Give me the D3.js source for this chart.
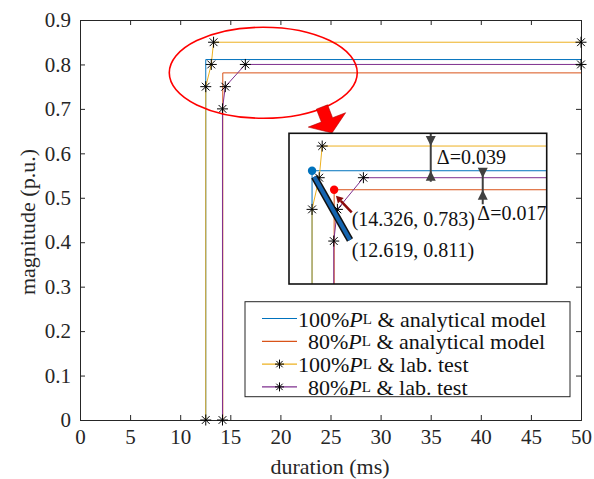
<!DOCTYPE html>
<html><head><meta charset="utf-8">
<script src="https://cdn.jsdelivr.net/npm/d3@7"></script>
<style>
html,body{margin:0;padding:0;background:#fff;}
svg{display:block;}
svg text{font-family:"Liberation Serif","Times New Roman",serif;}
</style></head>
<body><svg id="c" width="594" height="479"></svg>
<script>
// ---- data ----
const xTicks = [0,5,10,15,20,25,30,35,40,45,50];
const yTicks = [0,0.1,0.2,0.3,0.4,0.5,0.6,0.7,0.8,0.9];
const yTickLabels = ["0","0.1","0.2","0.3","0.4","0.5","0.6","0.7","0.8","0.9"];
const model100 = [[12.55,0],[12.55,0.811],[50,0.811]];
const model80  = [[14.25,0],[14.25,0.781],[50,0.781]];
const lab100   = [[12.55,0],[12.55,0.75],[13.1,0.80],[13.33,0.85],[50,0.85]];
const lab80    = [[14.22,0],[14.22,0.70],[14.5,0.75],[16.5,0.80],[50,0.80]];
const seriesNames = ["100%","80%","100%","80%"];
const seriesSuffix = [" & analytical model"," & analytical model"," & lab. test"," & lab. test"];
const colors = ["#0072BD","#D95319","#EDB120","#7E2F8E"];
const delta1 = "\u0394=0.039", delta2 = "\u0394=0.017";
const pt100 = "(12.619, 0.811)", pt80 = "(14.326, 0.783)";

const FONT = '"Liberation Serif","Times New Roman",serif';
const svg = d3.select("#c");
const x = d3.scaleLinear().domain([0,50]).range([80,581]);
const y = d3.scaleLinear().domain([0,0.9]).range([420,20]);
const axisCol = "#262626";

// ---- main axes ----
svg.append("rect").attr("x",80).attr("y",20).attr("width",501).attr("height",400).attr("fill","#fff");
const gx = svg.append("g").attr("transform","translate(0,420)")
  .call(d3.axisBottom(x).tickValues(xTicks).tickSize(-5).tickPadding(9).tickFormat(d3.format("d")));
const gxt = svg.append("g").attr("transform","translate(0,20)")
  .call(d3.axisTop(x).tickValues(xTicks).tickSize(-5).tickFormat(""));
const gy = svg.append("g").attr("transform","translate(80,0)")
  .call(d3.axisLeft(y).tickValues(yTicks).tickSize(-5).tickPadding(9).tickFormat((d,i)=>yTickLabels[i]));
const gyr = svg.append("g").attr("transform","translate(581,0)")
  .call(d3.axisRight(y).tickValues(yTicks).tickSize(-5).tickFormat(""));
[gx,gxt,gy,gyr].forEach(g=>{
  g.attr("font-family",FONT);
  g.select(".domain").attr("stroke",axisCol).attr("stroke-width",1);
  g.selectAll(".tick line").attr("stroke",axisCol);
  g.selectAll(".tick text").attr("fill",axisCol).style("font-family",FONT).style("font-size","21px");
});
gx.selectAll(".tick text").attr("dy","0.71em");

svg.append("text").attr("x",330).attr("y",474).attr("text-anchor","middle")
  .style("font-family",FONT).style("font-size","22px").attr("fill",axisCol).text("duration (ms)");
svg.append("text").attr("transform","translate(35,222) rotate(-90)").attr("text-anchor","middle")
  .style("font-family",FONT).style("font-size","22px").attr("fill",axisCol).text("magnitude (p.u.)");

function star(g, px, py, s){
  const r = s/2, d = r*0.7071;
  const p = `M${px-r},${py}L${px+r},${py}M${px},${py-r}L${px},${py+r}M${px-d},${py-d}L${px+d},${py+d}M${px-d},${py+d}L${px+d},${py-d}`;
  g.append("path").attr("d",p).attr("stroke","#000").attr("stroke-width",1).attr("fill","none");
}

function drawSeries(g, xs, ys, markerSize){
  const line = d3.line().x(d=>xs(d[0])).y(d=>ys(d[1]));
  [model100,model80,lab100,lab80].forEach((s,i)=>{
    g.append("path").attr("d",line(s)).attr("fill","none").attr("stroke",colors[i]).attr("stroke-width",1);
  });
  [lab100,lab80].forEach(s=>s.forEach(d=>star(g, xs(d[0]), ys(d[1]), markerSize)));
}
drawSeries(svg.append("g"), x, y, 11);

// ---- ellipse + big arrow ----
const ell = {cx:18.29, cy:0.7813, rx:9.38, ry:0.1024};
svg.append("ellipse").attr("cx",x(ell.cx)).attr("cy",y(ell.cy))
  .attr("rx",x(ell.rx)-x(0)).attr("ry",y(0)-y(ell.ry))
  .attr("fill","none").attr("stroke","#FF0000").attr("stroke-width",1.6);

const arrTail = [24.15,0.7043], arrTip = [25.15,0.6458];
(function(){
  const tx=x(arrTail[0]), ty=y(arrTail[1]), hx=x(arrTip[0]), hy=y(arrTip[1]);
  const L=Math.hypot(hx-tx,hy-ty), ux=(hx-tx)/L, uy=(hy-ty)/L, nx=-uy, ny=ux;
  const hl=14, sw=6, hw=20;
  const bx=hx-ux*hl, by=hy-uy*hl;
  const pts=[[tx+nx*sw,ty+ny*sw],[bx+nx*sw,by+ny*sw],[bx+nx*hw,by+ny*hw],[hx,hy],[bx-nx*hw,by-ny*hw],[bx-nx*sw,by-ny*sw],[tx-nx*sw,ty-ny*sw]];
  svg.append("polygon").attr("points",pts.map(p=>p.join(",")).join(" "))
    .attr("fill","#FF0000").attr("stroke","#B00000").attr("stroke-width",0.6);
})();

// ---- inset ----
const ix = d3.scaleLinear().domain([10.777,30.6]).range([289,546.7]);
const iy = d3.scaleLinear().domain([0.6322,0.8701]).range([284,133.3]);
const ins = svg.append("g");
ins.append("rect").attr("x",289).attr("y",133.3).attr("width",257.7).attr("height",150.7).attr("fill","#fff");
svg.append("clipPath").attr("id","ic").append("rect").attr("x",289).attr("y",133.3).attr("width",257.7).attr("height",150.7);
const ig = ins.append("g").attr("clip-path","url(#ic)");
drawSeries(ig, ix, iy, 11);

// dimension arrows
const dimCol = "#404040";
function dim(g, xv, yTop, yA, yB, yBot){
  const X = ix(xv);
  g.append("line").attr("x1",X).attr("x2",X).attr("y1",iy(yTop)).attr("y2",iy(yBot)).attr("stroke",dimCol).attr("stroke-width",2);
  const a = iy(yA), b = iy(yB);
  g.append("path").attr("d",`M${X},${a}L${X-5},${a-10}L${X+5},${a-10}Z`).attr("fill",dimCol);
  g.append("path").attr("d",`M${X},${b}L${X-5},${b+10}L${X+5},${b+10}Z`).attr("fill",dimCol);
}
dim(ig, 21.68, 0.8701, 0.85, 0.811, 0.7937);
dim(ig, 25.68, 0.8106, 0.80, 0.781, 0.758);

// pointers
const bluePtr = [[12.72,0.8016],[15.47,0.7017]];
ig.append("line").attr("x1",ix(bluePtr[0][0])).attr("y1",iy(bluePtr[0][1])).attr("x2",ix(bluePtr[1][0])).attr("y2",iy(bluePtr[1][1]))
  .attr("stroke","#111").attr("stroke-width",7);
ig.append("line").attr("x1",ix(bluePtr[0][0])).attr("y1",iy(bluePtr[0][1])).attr("x2",ix(bluePtr[1][0])).attr("y2",iy(bluePtr[1][1]))
  .attr("stroke","#1565B0").attr("stroke-width",4);
const redPtr = [[15.6,0.7454],[14.39,0.7716]];
(function(){
  const x1=ix(redPtr[0][0]), y1=iy(redPtr[0][1]), x2=ix(redPtr[1][0]), y2=iy(redPtr[1][1]);
  const L=Math.hypot(x2-x1,y2-y1), ux=(x2-x1)/L, uy=(y2-y1)/L, nx=-uy, ny=ux;
  const hl=7, hw=4;
  ig.append("line").attr("x1",x1).attr("y1",y1).attr("x2",x2-ux*hl).attr("y2",y2-uy*hl).attr("stroke","#8B0A0A").attr("stroke-width",2.5);
  const bx=x2-ux*hl, by=y2-uy*hl;
  ig.append("path").attr("d",`M${x2},${y2}L${bx+nx*hw},${by+ny*hw}L${bx-nx*hw},${by-ny*hw}Z`).attr("fill","#8B0A0A");
})();
ig.append("circle").attr("cx",ix(model100[1][0])).attr("cy",iy(model100[1][1])).attr("r",4.2).attr("fill","#0072BD");
ig.append("circle").attr("cx",ix(model80[1][0])).attr("cy",iy(model80[1][1])).attr("r",4.2).attr("fill","#FF0000");

const tstyle = g=>g.style("font-family",FONT).style("font-size","20px").attr("fill","#111").attr("dominant-baseline","central");
tstyle(ig.append("text").attr("x",ix(22.15)).attr("y",iy(0.8332)).text(delta1));
tstyle(ig.append("text").attr("x",ix(25.26)).attr("y",iy(0.7438)).text(delta2));
tstyle(ig.append("text").attr("x",ix(15.6)).attr("y",iy(0.7348)).text(pt80));
tstyle(ig.append("text").attr("x",ix(15.6)).attr("y",iy(0.6859)).text(pt100));

ins.append("rect").attr("x",289).attr("y",133.3).attr("width",257.7).attr("height",150.7)
  .attr("fill","none").attr("stroke","#111").attr("stroke-width",1.6);

// ---- legend ----
const lg = svg.append("g");
lg.append("rect").attr("x",245).attr("y",301.7).attr("width",325).attr("height",95)
  .attr("fill","#fff").attr("stroke",axisCol).attr("stroke-width",1);
seriesNames.forEach((n,i)=>{
  const yy = 318.5 + i*22.8;
  lg.append("line").attr("x1",262).attr("x2",297).attr("y1",yy).attr("y2",yy).attr("stroke",colors[i]).attr("stroke-width",1.2);
  if(i>=2) star(lg, 279.5, yy, 9);
  const t = lg.append("text").attr("x", n==="80%" ? 308 : 298).attr("y",yy).attr("dominant-baseline","central")
    .style("font-family",FONT).style("font-size","22px").attr("fill","#111");
  t.append("tspan").text(n);
  t.append("tspan").style("font-style","italic").text("P");
  t.append("tspan").style("font-size","15px").text("L");
  t.append("tspan").text(seriesSuffix[i]);
});
</script></body></html>
